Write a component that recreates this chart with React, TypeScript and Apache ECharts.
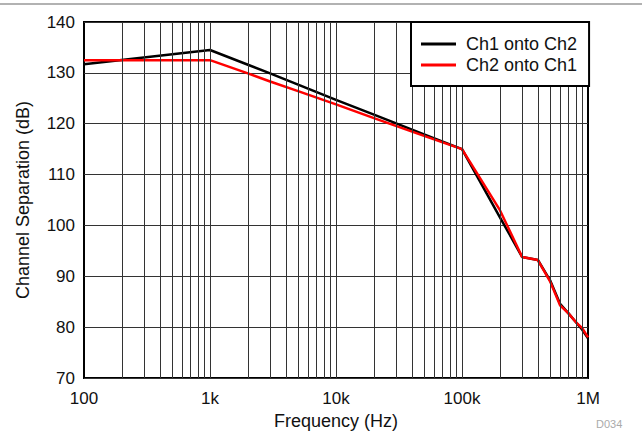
import React, { useEffect, useRef } from "react";
import * as echarts from "echarts";

const frequencies = [100, 1000, 2000, 3000, 5000, 10000, 20000, 50000, 100000, 200000, 300000, 400000, 500000, 600000, 700000, 800000, 900000, 1000000];
const ch1OntoCh2 = [131.7, 134.5, 131.6, 129.9, 127.7, 124.7, 121.8, 117.9, 115.0, 101.6, 93.8, 93.2, 89.2, 84.6, 82.7, 81.0, 79.5, 77.8];
const ch2OntoCh1 = [132.5, 132.5, 129.9, 128.3, 126.4, 123.8, 121.1, 117.6, 115.0, 103.0, 93.8, 93.2, 89.0, 84.3, 82.7, 81.0, 79.8, 78.0];
const xTickLabels: Record<number, string> = { 100: "100", 1000: "1k", 10000: "10k", 100000: "100k", 1000000: "1M" };
const gridFrequencies = [
  200, 300, 400, 500, 600, 700, 800, 900, 1000,
  2000, 3000, 4000, 5000, 6000, 7000, 8000, 9000, 10000,
  20000, 30000, 40000, 50000, 60000, 70000, 80000, 90000, 100000,
  200000, 300000, 400000, 500000, 600000, 700000, 800000, 900000,
];

const FONT = "Liberation Sans, Arial, Helvetica, sans-serif";

export default function App() {
  const ref = useRef<HTMLDivElement>(null);
  useEffect(() => {
    if (!ref.current) return;
    const chart = echarts.init(ref.current, null, { renderer: "svg" });
    chart.setOption({
      animation: false,
      backgroundColor: "#fff",
      textStyle: { fontFamily: FONT },
      grid: {
        left: 84,
        right: 54,
        top: 22,
        bottom: 59,
        show: true,
        borderColor: "#000",
        borderWidth: 2,
        backgroundColor: "transparent",
      },
      xAxis: {
        type: "log",
        logBase: 10,
        min: 100,
        max: 1000000,
        name: "Frequency (Hz)",
        nameLocation: "middle",
        nameGap: 33,
        nameTextStyle: { fontSize: 18, color: "#111", fontFamily: FONT },
        axisLine: { show: false },
        axisTick: { show: false },
        splitLine: { show: false },
        axisLabel: {
          fontSize: 17,
          color: "#111",
          margin: 12,
          fontFamily: FONT,
          formatter: (v: number) => xTickLabels[Math.round(v)] ?? "",
        },
      },
      yAxis: {
        type: "value",
        min: 70,
        max: 140,
        interval: 10,
        name: "Channel Separation (dB)",
        nameLocation: "middle",
        nameGap: 52,
        nameTextStyle: { fontSize: 18, color: "#111", fontFamily: FONT },
        axisLine: { show: false },
        axisTick: { show: false },
        axisLabel: { fontSize: 17, color: "#111", margin: 9, fontFamily: FONT },
        splitLine: { show: true, lineStyle: { color: "#333", width: 1 } },
      },
      legend: {
        orient: "vertical",
        left: 411,
        top: 22,
        z: 20,
        padding: [13, 12, 12, 10],
        icon: "rect",
        itemWidth: 35,
        itemHeight: 3,
        itemGap: 3,
        borderColor: "#000",
        borderWidth: 2,
        backgroundColor: "#fff",
        textStyle: { fontSize: 18, color: "#111", fontFamily: FONT, padding: [0, 0, 0, 5] },
        data: ["Ch1 onto Ch2", "Ch2 onto Ch1"],
      },
      series: [
        {
          name: "grid",
          type: "line",
          data: [],
          silent: true,
          z: 1,
          markLine: {
            silent: true,
            symbol: "none",
            label: { show: false },
            lineStyle: { color: "#333", width: 1, type: "solid" },
            data: gridFrequencies.map((f) => ({ xAxis: f })),
          },
        },
        {
          name: "Ch1 onto Ch2",
          type: "line",
          data: frequencies.map((f, i) => [f, ch1OntoCh2[i]]),
          symbol: "none",
          z: 3,
          lineStyle: { color: "#000", width: 2.5 },
          itemStyle: { color: "#000" },
        },
        {
          name: "Ch2 onto Ch1",
          type: "line",
          data: frequencies.map((f, i) => [f, ch2OntoCh1[i]]),
          symbol: "none",
          z: 4,
          lineStyle: { color: "#f00", width: 2.5 },
          itemStyle: { color: "#f00" },
        },
      ],
      graphic: [
        {
          type: "line",
          shape: { x1: 0, y1: 4, x2: 642, y2: 4 },
          style: { stroke: "#999", lineWidth: 1.5 },
        },
        {
          type: "text",
          left: 596,
          top: 418,
          style: { text: "D034", fontSize: 11, fill: "#aaa", fontFamily: FONT },
        },
      ],
    });
    return () => chart.dispose();
  }, []);
  return (
    <div
      ref={ref}
      style={{ position: "absolute", left: 0, top: 0, width: 642, height: 437 }}
    />
  );
}
